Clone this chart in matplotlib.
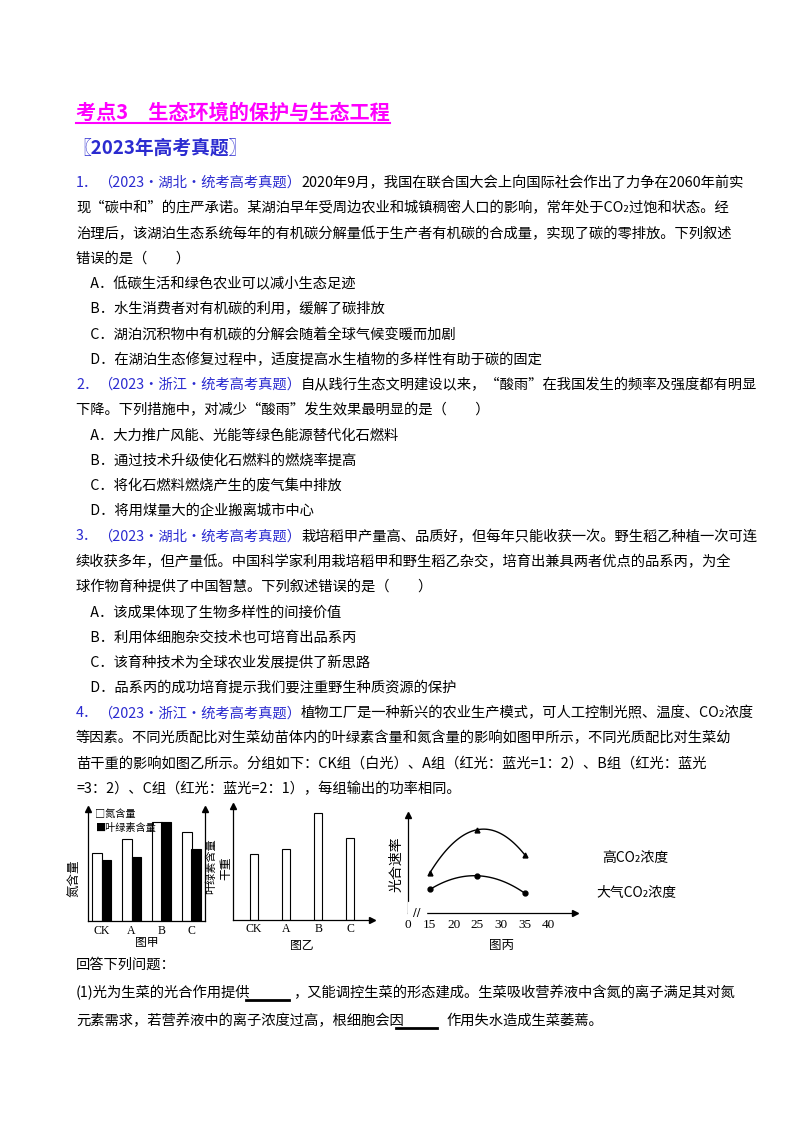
import matplotlib
matplotlib.use("Agg")
import matplotlib.pyplot as plt
import numpy as np

plt.rcParams['font.family'] = ['Noto Sans CJK SC', 'DejaVu Sans']

W, H = 800, 1132
fig = plt.figure(figsize=(8, 11.32), dpi=100)
BLUE = '#2b2bd0'

# ---------- data ----------
cats = ['CK', 'A', 'B', 'C']
nitrogen = [6.4, 7.8, 9.4, 8.4]
chlorophyll = [5.8, 6.1, 9.4, 6.8]
dry_weight = [5.8, 6.2, 9.4, 7.2]
temps = [15, 25, 35]
rate_high = [4.1, 8.5, 5.9]
rate_air = [2.4, 3.8, 2.0]
xticks_c = [15, 20, 25, 30, 35, 40]

def T(x, y, s, **kw):
    kw.setdefault('fontsize', 10.5)
    return fig.text(x / W, 1 - y / H, s, va='center', **kw)

r = fig.canvas.get_renderer()

def seg(x, y, parts, fs=10.5):
    for s, c in parts:
        t = T(x, y, s, color=c, fontsize=fs)
        bb = t.get_window_extent(renderer=r)
        x += bb.width

# title
t = T(76, 112, '考点3\u3000生态环境的保护与生态工程', color='#ff00ff', fontsize=14.5, fontweight='bold')
bb = t.get_window_extent(renderer=r)
fig.add_artist(plt.Line2D([76 / W, (76 + bb.width) / W], [1 - 123 / H] * 2, color='#ff00ff', lw=1.5))
T(72, 148, '〖2023年高考真题〗', color=BLUE, fontsize=13.5, fontweight='bold')

lines = [
    [('1．', BLUE), ('（2023·湖北·统考高考真题）', BLUE), ('2020年9月，我国在联合国大会上向国际社会作出了力争在2060年前实', 'k')],
    [('现“碳中和”的庄严承诺。某湖泊早年受周边农业和城镇稠密人口的影响，常年处于CO₂过饱和状态。经', 'k')],
    [('治理后，该湖泊生态系统每年的有机碳分解量低于生产者有机碳的合成量，实现了碳的零排放。下列叙述', 'k')],
    [('错误的是（\u3000\u3000）', 'k')],
    [('\u3000A．低碳生活和绿色农业可以减小生态足迹', 'k')],
    [('\u3000B．水生消费者对有机碳的利用，缓解了碳排放', 'k')],
    [('\u3000C．湖泊沉积物中有机碳的分解会随着全球气候变暖而加剧', 'k')],
    [('\u3000D．在湖泊生态修复过程中，适度提高水生植物的多样性有助于碳的固定', 'k')],
    [('2．', BLUE), ('（2023·浙江·统考高考真题）', BLUE), ('自从践行生态文明建设以来，“酸雨”在我国发生的频率及强度都有明显', 'k')],
    [('下降。下列措施中，对减少“酸雨”发生效果最明显的是（\u3000\u3000）', 'k')],
    [('\u3000A．大力推广风能、光能等绿色能源替代化石燃料', 'k')],
    [('\u3000B．通过技术升级使化石燃料的燃烧率提高', 'k')],
    [('\u3000C．将化石燃料燃烧产生的废气集中排放', 'k')],
    [('\u3000D．将用煤量大的企业搬离城市中心', 'k')],
    [('3．', BLUE), ('（2023·湖北·统考高考真题）', BLUE), ('栽培稻甲产量高、品质好，但每年只能收获一次。野生稻乙种植一次可连', 'k')],
    [('续收获多年，但产量低。中国科学家利用栽培稻甲和野生稻乙杂交，培育出兼具两者优点的品系丙，为全', 'k')],
    [('球作物育种提供了中国智慧。下列叙述错误的是（\u3000\u3000）', 'k')],
    [('\u3000A．该成果体现了生物多样性的间接价值', 'k')],
    [('\u3000B．利用体细胞杂交技术也可培育出品系丙', 'k')],
    [('\u3000C．该育种技术为全球农业发展提供了新思路', 'k')],
    [('\u3000D．品系丙的成功培育提示我们要注重野生种质资源的保护', 'k')],
    [('4．', BLUE), ('（2023·浙江·统考高考真题）', BLUE), ('植物工厂是一种新兴的农业生产模式，可人工控制光照、温度、CO₂浓度', 'k')],
    [('等因素。不同光质配比对生菜幼苗体内的叶绿素含量和氮含量的影响如图甲所示，不同光质配比对生菜幼', 'k')],
    [('苗干重的影响如图乙所示。分组如下：CK组（白光）、A组（红光：蓝光=1：2）、B组（红光：蓝光', 'k')],
    [('=3：2）、C组（红光：蓝光=2：1），每组输出的功率相同。', 'k')],
]
for i, parts in enumerate(lines):
    seg(76, 183 + i * 25.25, parts, fs=10.3)

T(76, 965, '回答下列问题：', fontsize=10.3)
seg(76, 993, [('(1)光为生菜的光合作用提供', 'k'), ('\u3000\u3000\u3000', 'k'),
              ('，又能调控生菜的形态建成。生菜吸收营养液中含氮的离子满足其对氮', 'k')], fs=10.3)
seg(76, 1021, [('元素需求，若营养液中的离子浓度过高，根细胞会因', 'k'), ('\u3000\u3000\u3000', 'k'),
               ('作用失水造成生菜萎蔫。', 'k')], fs=10.3)
fig.add_artist(plt.Line2D([246 / W, 289 / W], [1 - 1000 / H] * 2, color='k', lw=2))
fig.add_artist(plt.Line2D([396 / W, 437 / W], [1 - 1028 / H] * 2, color='k', lw=2))

def ax_px(x0, y0, x1, y1):
    return fig.add_axes([x0 / W, 1 - y1 / H, (x1 - x0) / W, (y1 - y0) / H])

def style(ax):
    for s in ['top', 'right']:
        ax.spines[s].set_visible(False)
    ax.set_xticks([]); ax.set_yticks([])
    ax.patch.set_alpha(0)
    for s in ['left', 'bottom']:
        ax.spines[s].set_linewidth(0.9)

# chart A
a = ax_px(88, 809, 205, 921)
style(a)
x = np.arange(len(cats))
a.bar(x - 0.155, nitrogen, 0.31, color='white', edgecolor='k', lw=0.8)
a.bar(x + 0.155, chlorophyll, 0.31, color='k', edgecolor='k', lw=0.8)
a.set_xlim(-0.45, 3.45); a.set_ylim(0, 10.6)
a.spines['right'].set_visible(True); a.spines['right'].set_linewidth(0.9)
a.plot([-0.45, 3.45], [10.6, 10.6], ls='', marker='^', ms=4, color='k', clip_on=False)
for i, c in enumerate(cats):
    a.text(i, -0.9, c, ha='center', va='center', fontsize=8.5, family='Liberation Serif')
a.text(1.5, -2.0, '图甲', ha='center', va='center', fontsize=8.5)
a.text(-0.2, 10.1, '□氮含量', fontsize=7.3, va='center')
a.text(-0.2, 8.8, '■叶绿素含量', fontsize=7.3, va='center')
T(74, 878, '氮含量', rotation=90, ha='center', fontsize=9)
T(211, 866, '叶绿素含量', rotation=90, ha='center', fontsize=8)

# chart B
b = ax_px(233, 806, 372, 920)
style(b)
b.bar(x, dry_weight, 0.26, color='white', edgecolor='k', lw=0.8)
b.set_xlim(-0.66, 3.68); b.set_ylim(0, 10)
b.plot([-0.66], [10], ls='', marker='^', ms=4, color='k', clip_on=False)
b.plot([3.68], [0], ls='', marker='>', ms=4, color='k', clip_on=False)
for i, c in enumerate(cats):
    b.text(i, -0.75, c, ha='center', va='center', fontsize=8.5, family='Liberation Serif')
b.text(1.5, -2.2, '图乙', ha='center', va='center', fontsize=8.5)
T(226, 868, '干重', rotation=90, ha='center', fontsize=8.5)

# chart C
c = ax_px(408, 815, 575, 913)
style(c)
c.set_xlim(10.4, 45.5); c.set_ylim(0, 10)
for ys, mk in [(rate_high, '^'), (rate_air, 'o')]:
    co = np.polyfit(temps, ys, 2)
    xs = np.linspace(15, 35, 60)
    c.plot(xs, np.polyval(co, xs), color='k', lw=1)
    c.plot(temps, ys, ls='', marker=mk, ms=3.5, color='k')
c.plot([10.4], [10], ls='', marker='^', ms=4, color='k', clip_on=False)
c.plot([45.5], [0], ls='', marker='>', ms=4, color='k', clip_on=False)
c.text(12.3, 0, '//', ha='center', va='center', fontsize=8, family='DejaVu Sans', backgroundcolor='white')
for v in xticks_c:
    c.text(v, -1.2, str(v), ha='center', va='center', fontsize=9.5, family='Liberation Serif')
c.text(10.4, -1.2, '0', ha='center', va='center', fontsize=9.5, family='Liberation Serif')
c.text(30, -3.3, '图丙', ha='center', va='center', fontsize=9)
T(602, 858, '高CO₂浓度', fontsize=10)
T(596, 893, '大气CO₂浓度', fontsize=10)
T(396, 864, '光合速率', rotation=90, ha='center', fontsize=10)

fig.savefig('out.png', dpi=100)
